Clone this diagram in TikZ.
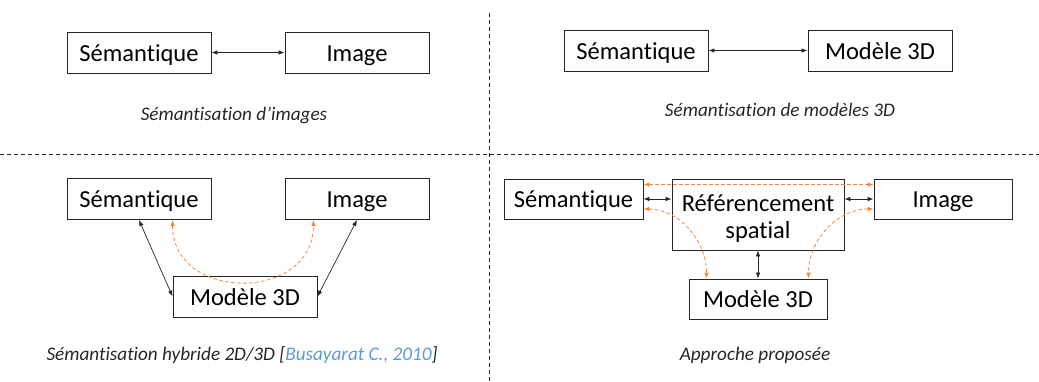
\documentclass[tikz,border=0pt]{standalone}
\usepackage{fontspec}
\setmainfont{Carlito}[Ligatures=NoCommon]
\usetikzlibrary{arrows.meta}

\definecolor{orangeflow}{HTML}{F0883E}
\definecolor{citeblue}{HTML}{5B9BD5}
\definecolor{boxline}{HTML}{262626}

\begin{document}
\begin{tikzpicture}[
    x=1pt, y=-1pt,
    >={Latex[length=6pt,width=4.5pt]},
    every node/.style={font=\fontsize{24.5}{27}\selectfont},
    block/.style={draw=boxline, line width=0.9pt, minimum width=144pt, minimum height=41pt,
        inner sep=0pt, text height=17pt, text depth=0pt},
    caption/.style={anchor=base, font=\fontsize{19.2}{22}\selectfont\itshape, text=black!85},
    link/.style={<->, line width=0.7pt, black!85},
    flow/.style={<->, line width=0.8pt, orangeflow, dash pattern=on 3.5pt off 2.5pt},
    sep/.style={line width=0.6pt, black!85, dash pattern=on 4pt off 3pt},
]
\useasboundingbox (0,0) rectangle (1039,381);

% === Separators between the four panels ===
\draw[sep] (0,154) -- (1039,154);
\draw[sep] (489,13) -- (489,381);

% === Panel 1: images ===
\node[block] (sem1) at (139,52.5) {Sémantique};
\node[block] (img1) at (357,52.5) {Image};
\draw[link] (sem1) -- (img1);
\node[caption] (cap1) at (234,120.7) {Sémantisation d’images};

% === Panel 2: 3D models ===
\node[block] (sem2) at (636,50.5) {Sémantique};
\node[block] (mod2) at (880,50.5) {Modèle 3D};
\draw[link] (sem2) -- (mod2);
\node[caption] (cap2) at (780,116.7) {Sémantisation de modèles 3D};

% === Panel 3: hybrid 2D/3D ===
\node[block] (sem3) at (139,199) {Sémantique};
\node[block] (img3) at (357,199) {Image};
\node[block] (mod3) at (245,296.5) {Modèle 3D};
\draw[link] (sem3.south) -- (mod3.west);
\draw[link] (img3.south) -- (mod3.east);
\draw[flow] (sem3.south -| mod3.west) to[out=-90, in=-90, looseness=1.5] ([xshift=-4pt]img3.south -| mod3.east);
\node[caption] (cap3) at (242,360.7) {Sémantisation hybride 2D/3D [\textcolor{citeblue}{Busayarat C., 2010}]};

% === Panel 4: proposed approach ===
\node[block, minimum width=139pt, minimum height=40pt] (sem4) at (573.5,199) {Sémantique};
\node[block, minimum width=172pt, minimum height=71pt, align=center, text height=47pt] (ref4) at (758,214.5) {Référencement\\spatial};
\node[block, minimum width=138pt, minimum height=40pt] (img4) at (943,199) {Image};
\node[block, minimum width=138pt, minimum height=40pt] (mod4) at (758,299) {Modèle 3D};
\draw[link] (sem4.east) -- (sem4.east -| ref4.west);
\draw[link] (img4.west -| ref4.east) -- (img4.west);
\draw[link] (ref4.south) -- (mod4.north);
\draw[flow] ([yshift=-6pt]sem4.north east) -- ([yshift=-6pt]img4.north west);
\draw[flow] ([yshift=-10pt]sem4.east) to[out=0, in=90] ([xshift=18pt]mod4.north west);
\draw[flow] ([yshift=-10pt]img4.west) to[out=180, in=90] ([xshift=-19pt]mod4.north east);
\node[caption] (cap4) at (755,360.7) {Approche proposée};

\end{tikzpicture}
\end{document}
